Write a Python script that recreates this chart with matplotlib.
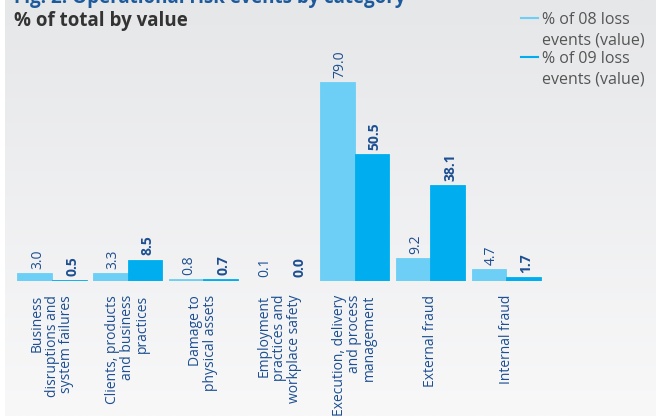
import numpy as np
import matplotlib.pyplot as plt
from matplotlib.colors import LinearSegmentedColormap

plt.rcParams['font.family'] = ['Open Sans', 'DejaVu Sans']

categories = [
    'Business\ndisruptions and\nsystem failures',
    'Clients, products\nand business\npractices',
    'Damage to\nphysical assets',
    'Employment\npractices and\nworkplace safety',
    'Execution, delivery\nand process\nmanagement',
    'External fraud',
    'Internal fraud',
]
loss_08 = [3.0, 3.3, 0.8, 0.1, 79.0, 9.2, 4.7]
loss_09 = [0.5, 8.5, 0.7, 0.0, 50.5, 38.1, 1.7]
legend_labels = ['% of 08 loss\nevents (value)', '% of 09 loss\nevents (value)']

c08 = '#6dcff6'
c09 = '#00aeef'
navy = '#1d4f91'

fig = plt.figure(figsize=(6.56, 4.18), dpi=100)
fig.patch.set_facecolor('white')

# grey panel with a soft vertical gradient
bg = fig.add_axes([5 / 656, 0.005, 1 - 5 / 656, 0.995])
grad = np.linspace(0, 1, 256).reshape(-1, 1)
bg.imshow(grad, aspect='auto', extent=[0, 1, 0, 1], origin='upper',
          cmap=LinearSegmentedColormap.from_list('panel', ['#e6e7e9', '#f8f8f9']))
bg.axis('off')

ax = fig.add_axes([0, 1 - 281 / 418, 1, 241 / 418])
ax.patch.set_alpha(0)
x = np.arange(len(categories))
w = 0.456
ax.bar(x - w / 2, loss_08, w, color=c08, edgecolor=c08, linewidth=0.6)
ax.bar(x + w / 2, loss_09, w, color=c09, edgecolor=c09, linewidth=0.6)
ax.set_xlim(-52 / 75.67, (656 - 52) / 75.67)
ax.set_ylim(0, 241 / 2.52)
ax.axis('off')

for i in range(len(categories)):
    ax.annotate(f'{loss_08[i]:.1f}', (x[i] - w / 2, loss_08[i]), xytext=(2, 3),
                textcoords='offset points', rotation=90, ha='center', va='bottom',
                fontsize=10, color=navy)
    ax.annotate(f'{loss_09[i]:.1f}', (x[i] + w / 2, loss_09[i]), xytext=(2, 3),
                textcoords='offset points', rotation=90, ha='center', va='bottom',
                fontsize=10, color=navy, fontweight='bold')
    ax.annotate(categories[i], (x[i], 0), xytext=(0, -10), textcoords='offset points',
                rotation=90, ha='center', va='top', multialignment='right',
                fontsize=10, color=navy, linespacing=1.0)

fig.text(14 / 656, 1 + 2 / 418, 'Fig. 2: Operational risk events by category',
         fontsize=13.5, fontweight='bold', color='#1d5a9c', va='center')
fig.text(14 / 656, 1 - 21 / 418, '% of total by value', fontsize=13.5,
         fontweight='bold', color='#333333', va='center')

# legend drawn as short coloured lines with grey text
for k, (lab, c) in enumerate(zip(legend_labels, [c08, c09])):
    yk = 1 - (18 + k * 39) / 418
    fig.add_artist(plt.Line2D([521 / 656, 538 / 656], [yk, yk], color=c, lw=1.5))
    fig.text(542 / 656, yk + 6 / 418, lab, fontsize=11.5, color='#555555',
             va='top', linespacing=1.4)

fig.savefig('out.png', dpi=100)
